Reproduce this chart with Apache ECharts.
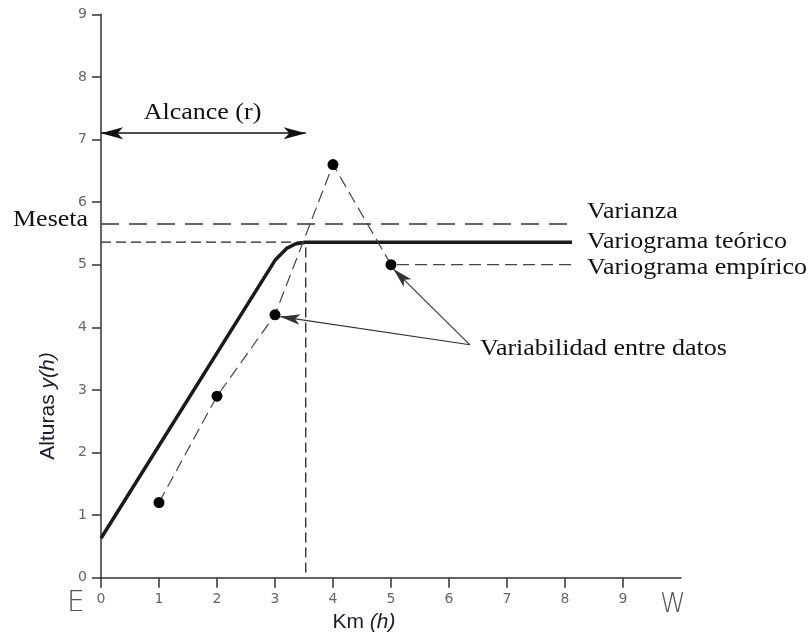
<!DOCTYPE html>
<html><head><meta charset="utf-8">
<script src="https://cdn.jsdelivr.net/npm/echarts@6/dist/echarts.min.js"></script>
<style>html,body{margin:0;padding:0;background:#fff}#c{width:808px;height:637px}</style>
</head><body><div id="c"></div>
<script>
// ---- data ----
var xTicks = [0,1,2,3,4,5,6,7,8,9];
var empX = [1, 2, 3, 4, 5];
var empY = [1.2, 2.9, 4.2, 6.6, 5.0];
var empTailX = 8.12;                       // end of the empirical reference line
var theoX = [0, 3.0, 3.2, 3.35, 3.52, 8.12];
var theoY = [0.63, 5.07, 5.26, 5.33, 5.36, 5.36];
var varianza = 5.65;
var meseta = 5.36;
var alcance = 3.53;
var alcanceY = 7.1;
var arrowFrom = [6.36, 3.72];
var arrowTo1 = [3.09, 4.17];
var arrowTo2 = [5.04, 4.93];
var labels = {
  varianza: 'Varianza', teo: 'Variograma teórico', emp: 'Variograma empírico',
  meseta: 'Meseta', alcance: 'Alcance (r)', variab: 'Variabilidad entre datos',
  yName: 'Alturas', xName: 'Km', E: 'E', W: 'W'
};

var serif = '"Liberation Serif", "Times New Roman", serif';
var sans = '"Liberation Sans", Arial, sans-serif';

var empData = empX.map(function(x,i){return [x, empY[i]];});
empData.push({value:[empTailX, empY[empY.length-1]], symbol:'none'});
var theoData = theoX.map(function(x,i){return [x, theoY[i]];});

var chart = echarts.init(document.getElementById('c'), null, {renderer:'canvas'});
function serifText(txt, x, y, align){
  return {type:'text', x:x, y:y, scaleX:1.13, scaleY:1,
    style:{text:txt, font:'23px ' + serif, fill:'#111', textAlign:align||'left', textVerticalAlign:'middle'}};
}
var tickLabel = {color:'#666', fontFamily:'DejaVu Sans', fontSize:14};
chart.setOption({
  animation:false,
  grid:{left:101, right:127, top:14.3, bottom:59.3, containLabel:false},
  xAxis:{type:'value', min:0, max:10, interval:1,
    axisLine:{lineStyle:{color:'#333', width:1.5}},
    axisTick:{length:10, lineStyle:{color:'#333', width:1.5}, customValues:xTicks},
    axisLabel:Object.assign({margin:15, customValues:xTicks}, tickLabel),
    splitLine:{show:false}},
  yAxis:{type:'value', min:0, max:9, interval:1,
    axisLine:{show:true, lineStyle:{color:'#333', width:1.5}},
    axisTick:{show:true, length:9, lineStyle:{color:'#333', width:1.5}},
    axisLabel:Object.assign({margin:14}, tickLabel),
    splitLine:{show:false}},
  series:[
    {type:'line', data:[[0,varianza],[empTailX,varianza]], symbol:'none',
     lineStyle:{color:'#333', width:1.3, type:[18,10]}},
    {type:'line', data:[[0,meseta],[alcance,meseta],[alcance,0]], symbol:'none',
     lineStyle:{color:'#222', width:1.3, type:[10,5]}},
    {type:'line', data:theoData, symbol:'none', smooth:false,
     lineStyle:{color:'#1a1a1a', width:3.5}},
    {type:'line', data:empData, symbol:'circle', symbolSize:11,
     itemStyle:{color:'#000'},
     lineStyle:{color:'#444', width:1.2, type:[12,6]}},
    {type:'line', data:[], markLine:{silent:true, symbol:['arrow','arrow'], symbolSize:[9,22],
      lineStyle:{color:'#111', width:1.5, type:'solid'}, label:{show:false},
      data:[[{coord:[0,alcanceY]},{coord:[alcance,alcanceY]}]]}},
    {type:'line', data:[], markLine:{silent:true, symbol:['none','arrow'], symbolSize:[8,20],
      lineStyle:{color:'#333', width:1.1, type:'solid'}, label:{show:false},
      data:[[{coord:arrowFrom},{coord:arrowTo1}],[{coord:arrowFrom},{coord:arrowTo2}]]}}
  ],
  graphic:[
    serifText(labels.alcance, 202.5, 113, 'center'),
    serifText(labels.meseta, 13, 220),
    serifText(labels.varianza, 587, 212),
    serifText(labels.teo, 587, 242),
    serifText(labels.emp, 587, 268),
    serifText(labels.variab, 480, 349),
    {type:'text', x:364, y:622, style:{rich:{a:{fontFamily:sans, fontSize:21, fill:'#1b1b2b'}, b:{fontFamily:sans, fontSize:21, fontStyle:'italic', fill:'#1b1b2b'}}, text:'{a|' + labels.xName + ' }{b|(h)}', textAlign:'center', textVerticalAlign:'middle'}},
    {type:'text', x:48, y:406, rotation:Math.PI/2, style:{rich:{a:{fontFamily:sans, fontSize:21, fill:'#1b1b2b'}, b:{fontFamily:sans, fontSize:21, fontStyle:'italic', fill:'#1b1b2b'}}, text:'{a|' + labels.yName + ' }{b|y(h)}', textAlign:'center', textVerticalAlign:'middle'}},
    {type:'text', left:67, top:590, style:{text:labels.E, font:'200 28px "DejaVu Sans"', fill:'#555'}},
    {type:'text', left:660, top:592, style:{text:labels.W, font:'200 26px "DejaVu Sans"', fill:'#555'}}
  ]
});
</script></body></html>
